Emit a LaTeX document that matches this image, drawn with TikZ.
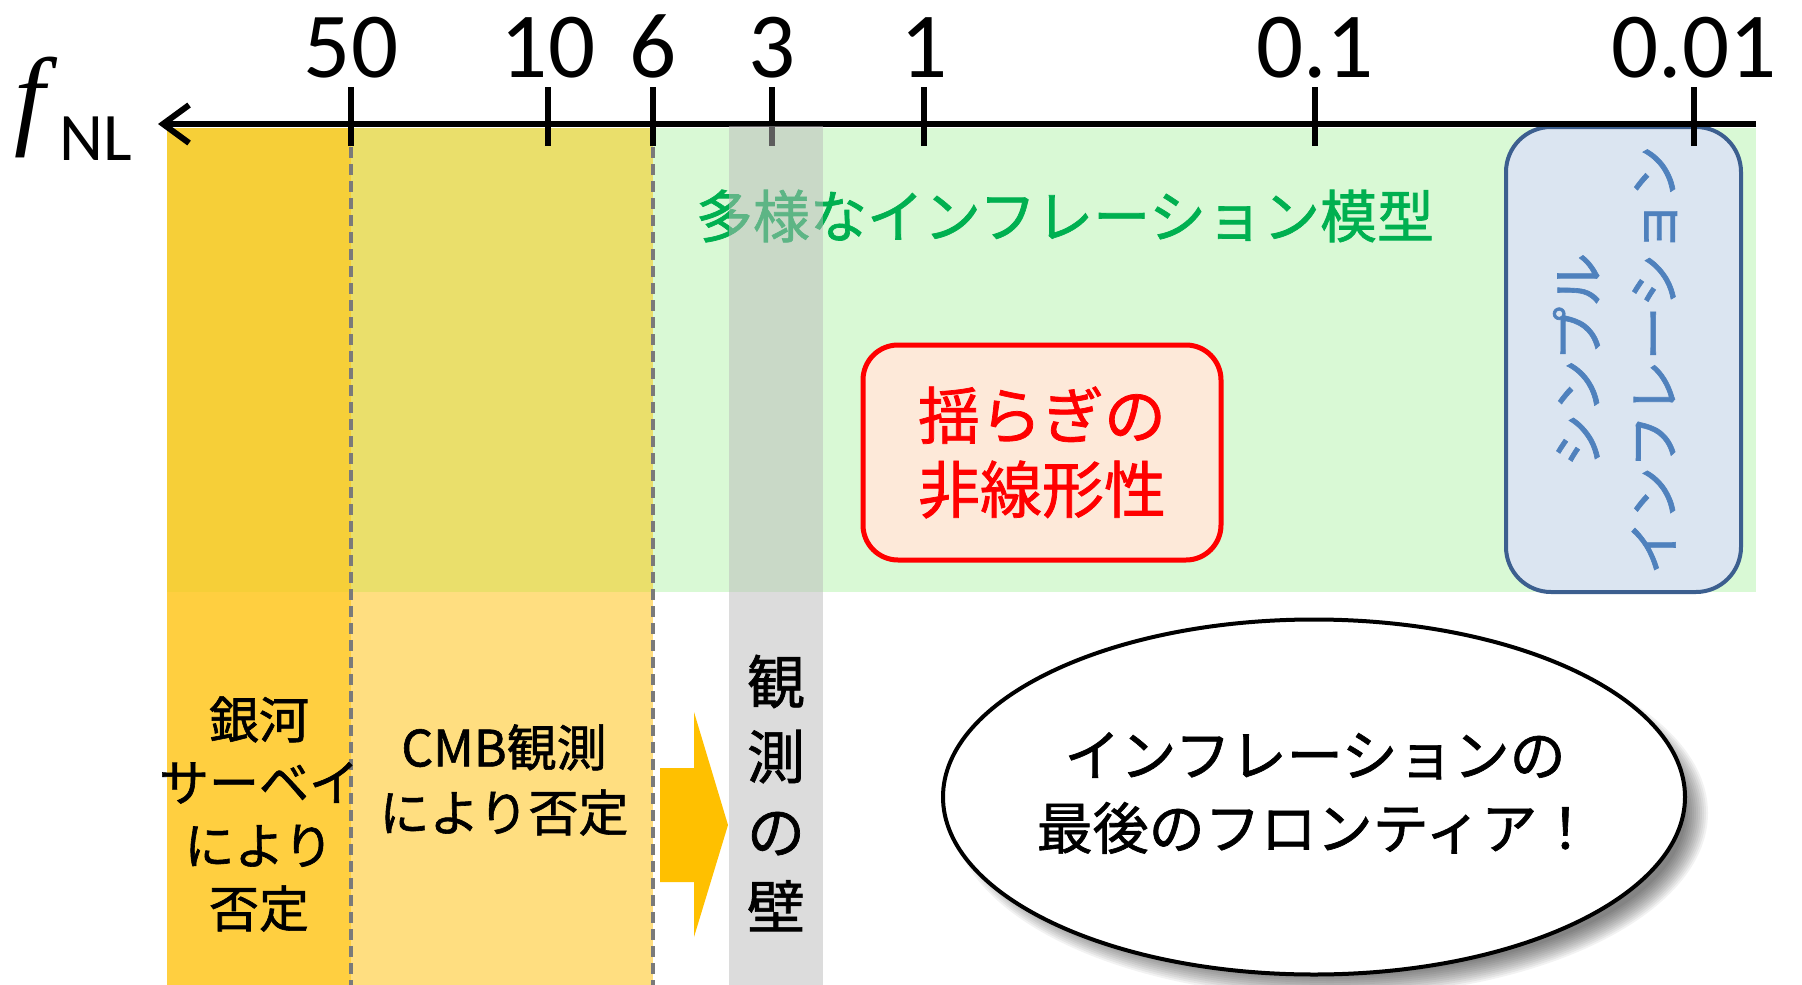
\documentclass[tikz,border=0pt]{standalone}
\usepackage{fontspec}
\setmainfont{Carlito}
\newfontfamily\jp{Noto Sans CJK JP}[FakeBold=1.2]
\newfontfamily\tnr{Liberation Serif}
\usetikzlibrary{arrows.meta,shapes.geometric}
\definecolor{bandgreen}{HTML}{D9F9D5}
\definecolor{goldup}{HTML}{F6CF38}
\definecolor{goldlow}{HTML}{FFCF40}
\definecolor{cmbup}{HTML}{EADF6B}
\definecolor{cmblow}{HTML}{FFDE80}
\definecolor{wallgray}{HTML}{BBBBBB}
\definecolor{dashgray}{HTML}{7A7A7A}
\definecolor{txtgreen}{HTML}{00B050}
\definecolor{peach}{HTML}{FDE9D9}
\definecolor{bluefill}{HTML}{DBE5F1}
\definecolor{blueline}{HTML}{3C5F8F}
\definecolor{bluetext}{HTML}{4F81BD}
\definecolor{arroworange}{HTML}{FFC000}
\begin{document}
\begin{tikzpicture}[x=1pt,y=-1pt,
  ticklabel/.style={anchor=base, inner sep=0pt, font=\fontsize{93}{100}\selectfont},
  tickmark/.style={line width=6pt},
  boundary/.style={dashgray, line width=4.5pt, dash pattern=on 11pt off 6pt},
  jp50/.style={font=\jp\fontsize{50}{63}\selectfont, align=center, inner sep=0pt},
]
\useasboundingbox[fill=white] (0,0) rectangle (1802,985);
% green band
\fill[bandgreen] (167,128) rectangle (1756,592);
% excluded regions
\fill[goldup] (167,128) rectangle (351,592);
\fill[goldlow] (167,592) rectangle (351,985);
\fill[cmbup] (351,128) rectangle (653,592);
\fill[cmblow] (351,592) rectangle (653,985);
\draw[boundary] (351,130) -- (351,985);
\draw[boundary] (653,130) -- (653,985);
% green label
\node[font=\jp\fontsize{57}{60}\selectfont, text=txtgreen, inner sep=0pt] (models) at (1065,216) {多様なインフレーション模型};
% red box
\node[draw=red, fill=peach, line width=5pt, rounded corners=35pt, minimum width=358pt, minimum height=215pt,
  text=red, font=\jp\fontsize{62}{74}\selectfont, align=center] (nonlin) at (1042,452.5) {揺らぎの\\非線形性};
% blue box
\node[draw=blueline, fill=bluefill, line width=4pt, rounded corners=45pt, minimum width=235pt, minimum height=465pt] (simplebox) at (1623.5,359.5) {};
\node[rotate=90, text=bluetext, font=\jp\fontsize{54}{76}\selectfont, align=center, inner sep=0pt] (simple) at (1615,360) {シンプル\\インフレーション};
% axis
\coordinate (axisR) at (1756,124);
\coordinate (axisL) at (158,124);
\draw[line width=6pt, -{Straight Barb[length=26pt,width=38pt]}] (axisR) -- (axisL);
\node[anchor=base west, inner sep=0pt, font=\tnr\itshape\fontsize{110}{110}\selectfont] (fsym) at (14,134) {f};
\node[anchor=base west, inner sep=0pt, font=\fontsize{68}{70}\selectfont] (nlsym) at (59,160) {NL};
\foreach \x/\lab/\n in {351/50/a, 548/10/b, 653/6/c, 772/3/d, 924/1/e, 1315/0.1/f, 1694/0.01/g}{
  \draw[tickmark] (\x,87) -- (\x,146);
  \node[ticklabel] (lab\n) at (\x,77) {\lab};
}
% wall band
\fill[wallgray, opacity=0.5] (729,126) rectangle (823,985);
% orange arrow
\fill[arroworange] (660,768) -- (694,768) -- (694,712) -- (728,825) -- (694,937) -- (694,882) -- (660,882) -- cycle;
% texts
\node[jp50] (galaxy) at (259,814) {銀河\\サーベイ\\により\\否定};
\node[jp50, font=\jp\fontsize{50}{65}\selectfont] (cmb) at (504,780) {CMB観測\\により否定};
\node[jp50, font=\jp\fontsize{58}{75}\selectfont] (wall) at (776,793) {観\\測\\の\\壁};
% ellipse shadow
\foreach \i in {0,...,11}{
  \fill[black, opacity=0.05] (1330,813) ellipse [x radius=378-2*\i, y radius=184-2*\i];
}
\node[ellipse, draw=black, fill=white, line width=4pt, minimum width=742pt, minimum height=355pt, inner sep=0pt] (frontier) at (1314,797) {};
\node[font=\jp\fontsize{56}{73}\selectfont, align=center, inner sep=0pt] (frontiertext) at (1315,793) {インフレーションの\\最後のフロンティア！};
\end{tikzpicture}
\end{document}
